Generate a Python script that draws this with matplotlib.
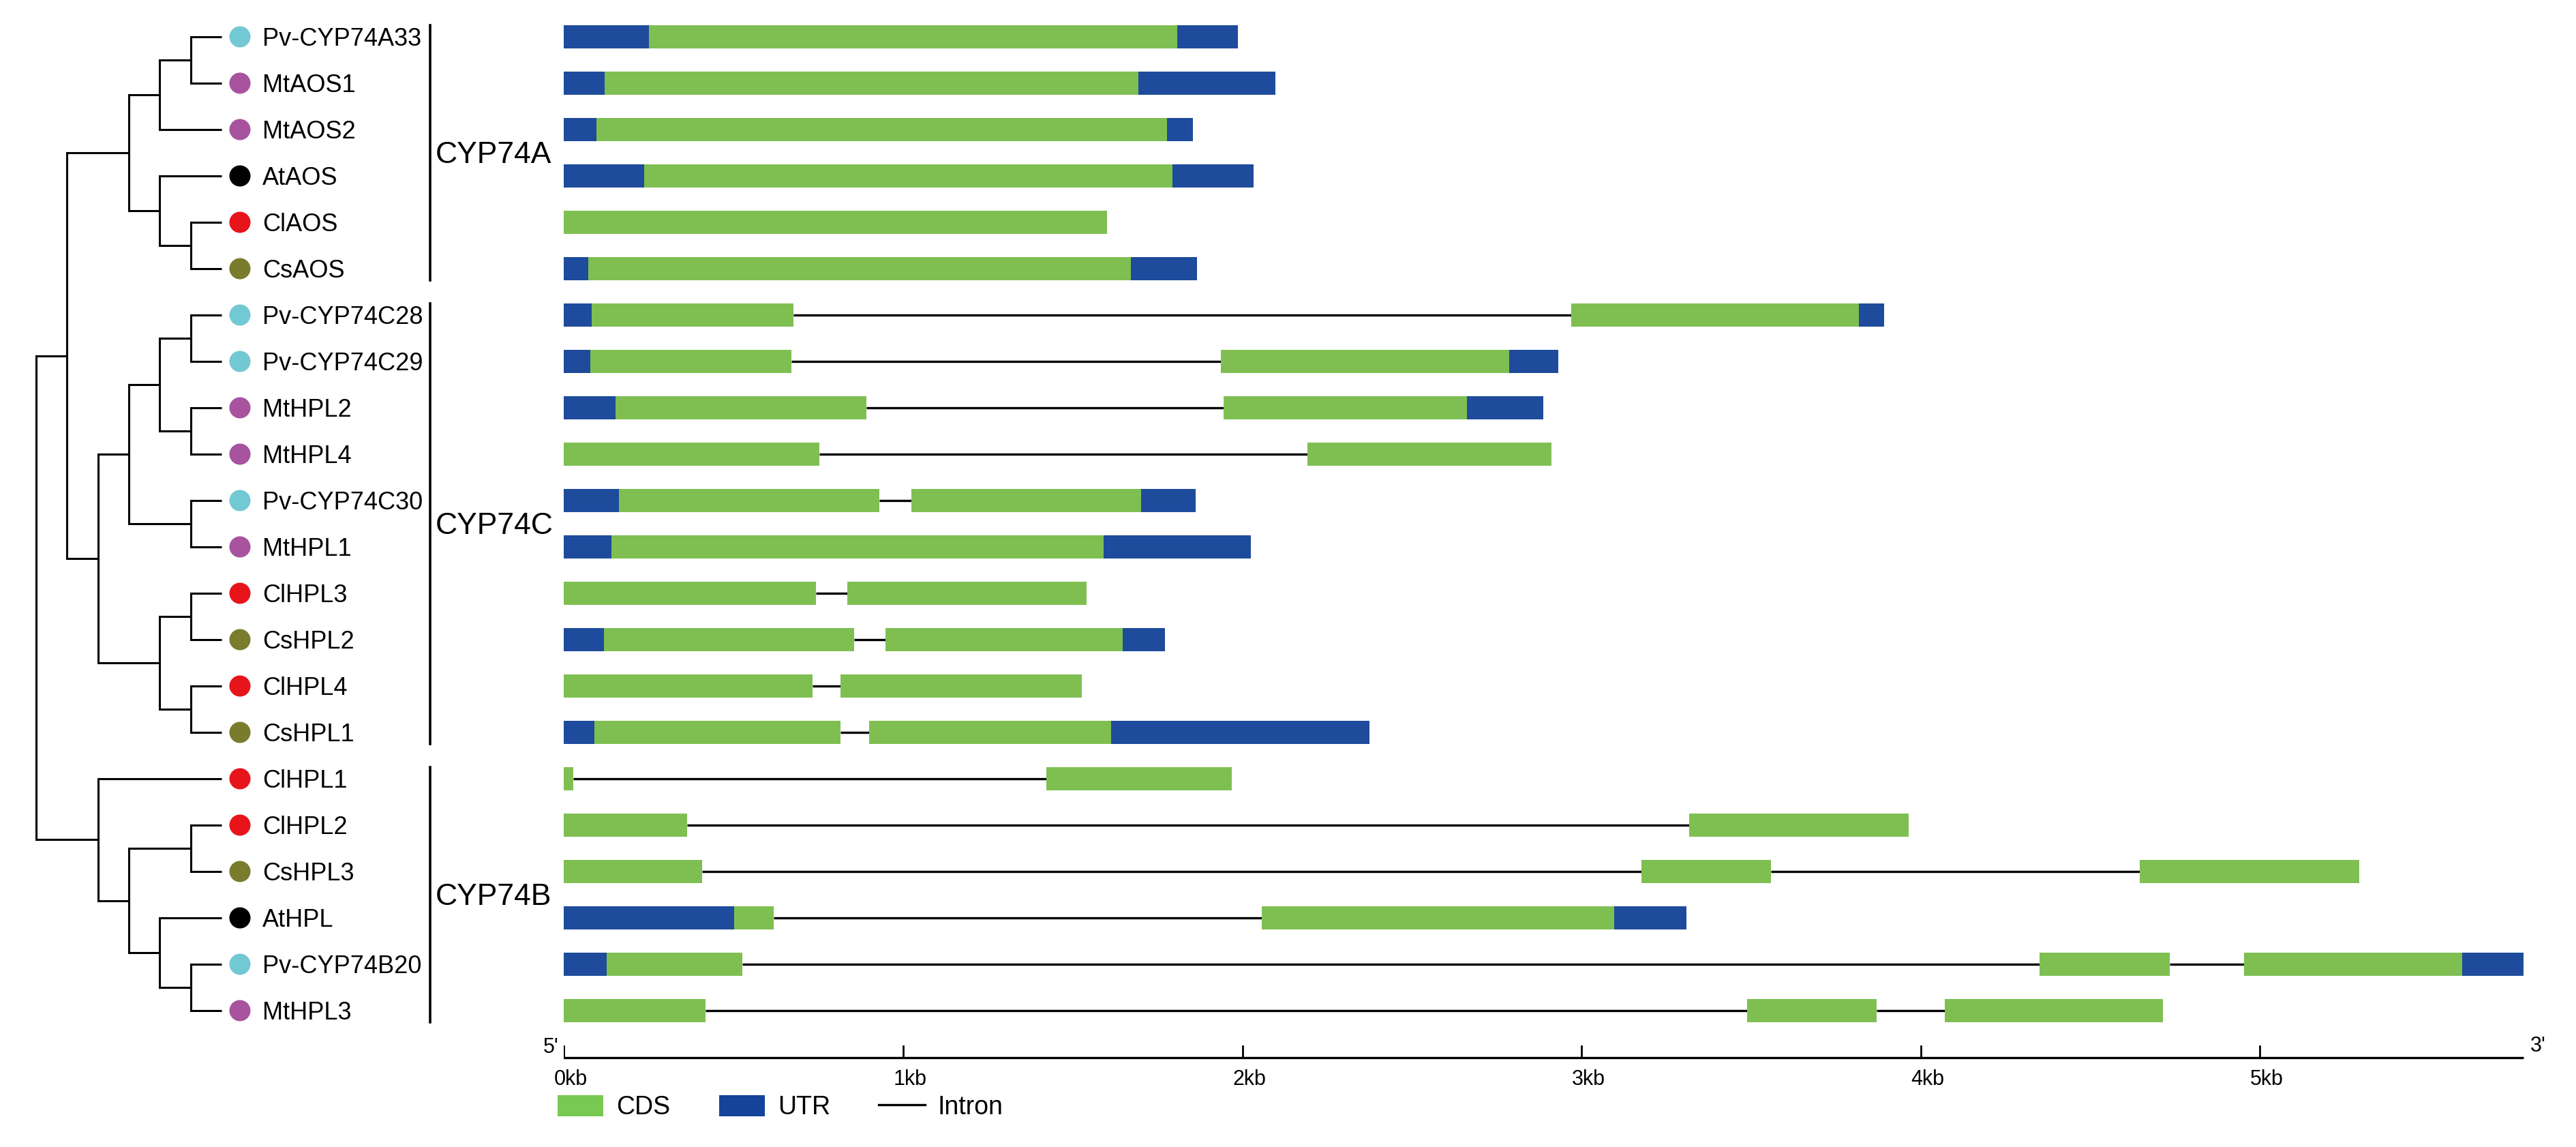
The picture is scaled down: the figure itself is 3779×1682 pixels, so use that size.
import matplotlib
matplotlib.use("Agg")
import matplotlib.pyplot as plt
from matplotlib.patches import Patch
from matplotlib.lines import Line2D

plt.rcParams['font.family'] = ['Liberation Sans', 'DejaVu Sans']

# gene names, top to bottom, and species code of each
genes = ['Pv-CYP74A33', 'MtAOS1', 'MtAOS2', 'AtAOS', 'ClAOS', 'CsAOS',
         'Pv-CYP74C28', 'Pv-CYP74C29', 'MtHPL2', 'MtHPL4', 'Pv-CYP74C30', 'MtHPL1',
         'ClHPL3', 'CsHPL2', 'ClHPL4', 'CsHPL1',
         'ClHPL1', 'ClHPL2', 'CsHPL3', 'AtHPL', 'Pv-CYP74B20', 'MtHPL3']
species = ['Pv', 'Mt', 'Mt', 'At', 'Cl', 'Cs',
           'Pv', 'Pv', 'Mt', 'Mt', 'Pv', 'Mt',
           'Cl', 'Cs', 'Cl', 'Cs',
           'Cl', 'Cl', 'Cs', 'At', 'Pv', 'Mt']
species_colors = {'Pv': '#72c8d3', 'Mt': '#a7539e', 'At': '#000000',
                  'Cl': '#e8141b', 'Cs': '#7b7b2e'}

# gene structures in kb (start, end)
cds = [
    [(0.251, 1.807)],
    [(0.119, 1.693)],
    [(0.095, 1.777)],
    [(0.237, 1.793)],
    [(0.0, 1.600)],
    [(0.071, 1.672)],
    [(0.082, 0.677), (2.969, 3.817)],
    [(0.078, 0.671), (1.937, 2.786)],
    [(0.151, 0.892), (1.944, 2.662)],
    [(0.0, 0.753), (2.191, 2.912)],
    [(0.162, 0.929), (1.024, 1.701)],
    [(0.139, 1.591)],
    [(0.0, 0.742), (0.836, 1.541)],
    [(0.117, 0.855), (0.948, 1.647)],
    [(0.0, 0.732), (0.816, 1.526)],
    [(0.089, 0.816), (0.900, 1.612)],
    [(0.0, 0.028), (1.422, 1.968)],
    [(0.0, 0.362), (3.318, 3.965)],
    [(0.0, 0.407), (3.177, 3.559), (4.645, 5.293)],
    [(0.502, 0.619), (2.058, 3.096)],
    [(0.126, 0.526), (4.351, 4.734), (4.953, 5.596)],
    [(0.0, 0.418), (3.488, 3.869), (4.071, 4.714)],
]
utr = [
    [(0.0, 0.251), (1.807, 1.987)],
    [(0.0, 0.119), (1.693, 2.098)],
    [(0.0, 0.095), (1.777, 1.855)],
    [(0.0, 0.237), (1.793, 2.033)],
    [],
    [(0.0, 0.071), (1.672, 1.867)],
    [(0.0, 0.082), (3.817, 3.891)],
    [(0.0, 0.078), (2.786, 2.931)],
    [(0.0, 0.151), (2.662, 2.888)],
    [],
    [(0.0, 0.162), (1.701, 1.862)],
    [(0.0, 0.139), (1.591, 2.024)],
    [],
    [(0.0, 0.117), (1.647, 1.771)],
    [],
    [(0.0, 0.089), (1.612, 2.374)],
    [],
    [],
    [],
    [(0.0, 0.502), (3.096, 3.310)],
    [(0.0, 0.126), (5.596, 5.777)],
    [],
]

# tree topology (leaf = row index)
clade_a = (((0, 1), 2), (3, (4, 5)))
clade_c = ((((6, 7), (8, 9)), (10, 11)), ((12, 13), (14, 15)))
clade_b = (16, ((17, 18), (19, (20, 21))))
tree = ((clade_a, clade_c), clade_b)

groups = ['CYP74A', 'CYP74C', 'CYP74B']
group_rows = [(0, 5), (6, 15), (16, 21)]

scale_ticks = [0, 1, 2, 3, 4, 5]
scale_labels = ['0kb', '1kb', '2kb', '3kb', '4kb', '5kb']
scale_end = 5.777

CDS_COLOR = '#7fbf52'
UTR_COLOR = '#1e4b9c'

W, H = 3780, 1682
ROW0, ROWH = 54, 68
X0, PX_KB = 827.4, 497.6
TIP_X, STEP = 325, 45.3

fig = plt.figure(figsize=(W / 100, H / 100), dpi=100)
ylim = ((H - ROW0) / ROWH, -ROW0 / ROWH)

ax_t = fig.add_axes([0, 0, X0 / W, 1])
ax_t.set_xlim(0, X0)
ax_t.set_ylim(*ylim)
ax_t.axis('off')

ax_g = fig.add_axes([X0 / W, 0, 1 - X0 / W, 1])
ax_g.set_xlim(0, (W - X0) / PX_KB)
ax_g.set_ylim(*ylim)
ax_g.axis('off')


# ---- tree ----
def draw(node):
    # returns (x, y, height)
    if isinstance(node, int):
        return TIP_X, node, 0
    kids = [draw(k) for k in node]
    h = max(k[2] for k in kids) + 1
    x = TIP_X - h * STEP
    ys = [k[1] for k in kids]
    ax_t.plot([x, x], [min(ys), max(ys)], color='black', lw=2.2, solid_capstyle='projecting')
    for kx, ky, _ in kids:
        ax_t.plot([x, kx], [ky, ky], color='black', lw=2.2, solid_capstyle='butt')
    return x, sum(ys) / len(ys), h


draw(tree)

rows = list(range(len(genes)))
ax_t.scatter([352] * len(genes), rows, s=500,
             c=[species_colors[s] for s in species], edgecolors='none', zorder=3)
for i, g in enumerate(genes):
    ax_t.text(385, i + 0.05, g, fontsize=26, va='center', ha='left')

for name, (r0, r1) in zip(groups, group_rows):
    ax_t.plot([631, 631], [r0 - 0.25, r1 + 0.25], color='black', lw=2.6)
    ax_t.text(639, (r0 + r1) / 2 + 0.05, name, fontsize=32, va='center', ha='left')

# ---- gene structures ----
for i in rows:
    segs = sorted(cds[i] + utr[i])
    # introns: the gaps between consecutive exon pieces
    for (a0, a1), (b0, b1) in zip(segs[:-1], segs[1:]):
        if b0 > a1:
            ax_g.plot([a1, b0], [i, i], color='black', lw=2.4,
                      solid_capstyle='butt', zorder=1)
    ax_g.broken_barh([(a, b - a) for a, b in cds[i]], (i - 0.25, 0.5),
                     facecolors=CDS_COLOR, edgecolor='none', zorder=2)
    if utr[i]:
        ax_g.broken_barh([(a, b - a) for a, b in utr[i]], (i - 0.25, 0.5),
                         facecolors=UTR_COLOR, edgecolor='none', zorder=2)

# scale bar
ybar = (1550.7 - ROW0) / ROWH
ax_g.plot([0, scale_end], [ybar, ybar], color='black', lw=2.4, solid_capstyle='butt')
for t, lab in zip(scale_ticks, scale_labels):
    ax_g.plot([t, t], [ybar, ybar - 0.25], color='black', lw=2.0)
    ax_g.text(t + 0.02, ybar + 0.25, lab, fontsize=22, ha='center', va='top')
ax_g.text(-0.015, ybar - 0.22, "5'", fontsize=22, ha='right', va='center')
ax_g.text(scale_end + 0.02, ybar - 0.25, "3'", fontsize=22, ha='left', va='center')

handles = [Patch(facecolor='#78c952', edgecolor='none', label='CDS'),
           Patch(facecolor='#15439a', edgecolor='none', label='UTR'),
           Line2D([0], [0], color='black', lw=2.4, label='Intron')]
fig.legend(handles=handles, loc='upper left', bbox_to_anchor=(818 / W, 1 - 1606 / H),
           ncol=3, frameon=False, fontsize=27, handlelength=1.8, handleheight=0.9,
           handletextpad=0.5, columnspacing=1.9, borderpad=0, borderaxespad=0)

fig.savefig('out.png', dpi=100, facecolor='white')
